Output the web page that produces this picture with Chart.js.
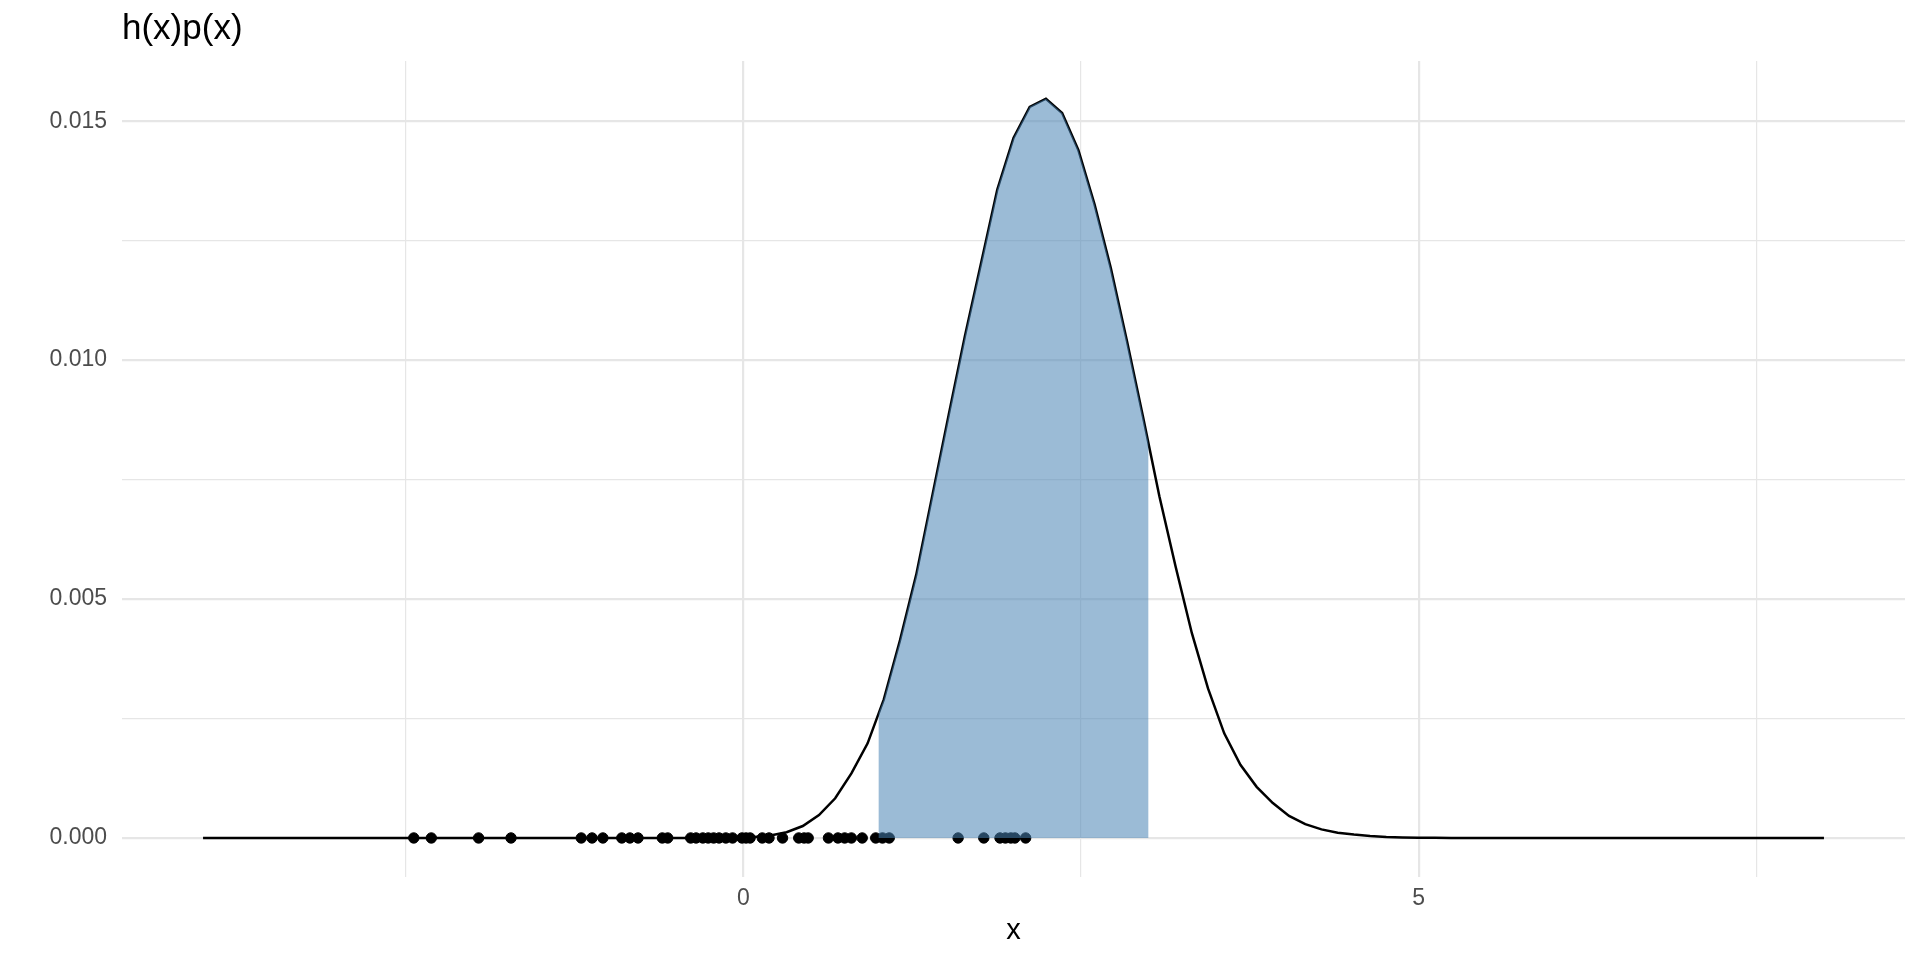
<!DOCTYPE html>
<html>
<head>
<meta charset="utf-8">
<title>h(x)p(x)</title>
<script src="https://cdn.jsdelivr.net/npm/chart.js@4.4.1/dist/chart.umd.min.js"></script>
<style>
    body { margin: 0; background: #ffffff; }
    #wrap { width: 1920px; height: 960px; position: relative; }
</style>
</head>
<body>
<div id="wrap"><canvas id="hpChart"></canvas></div>
<script>
let curveX = [
    -4.00, -3.88, -3.76, -3.64, -3.52, -3.40, -3.28, -3.16, -3.04, -2.92,
    -2.80, -2.68, -2.56, -2.44, -2.32, -2.20, -2.08, -1.96, -1.84, -1.72,
    -1.60, -1.48, -1.36, -1.24, -1.12, -1.00, -0.88, -0.76, -0.64, -0.52,
    -0.40, -0.28, -0.16, -0.04, 0.08, 0.20, 0.32, 0.44, 0.56, 0.68,
    0.80, 0.92, 1.04, 1.16, 1.28, 1.40, 1.52, 1.64, 1.76, 1.88,
    2.00, 2.12, 2.24, 2.36, 2.48, 2.60, 2.72, 2.84, 2.96, 3.08,
    3.20, 3.32, 3.44, 3.56, 3.68, 3.80, 3.92, 4.04, 4.16, 4.28,
    4.40, 4.52, 4.64, 4.76, 4.88, 5.00, 5.12, 5.24, 5.36, 5.48,
    5.60, 5.72, 5.84, 5.96, 6.08, 6.20, 6.32, 6.44, 6.56, 6.68,
    6.80, 6.92, 7.04, 7.16, 7.28, 7.40, 7.52, 7.64, 7.76, 7.88,
    8.00
];
let curveY = [
    0, 0, 0, 0, 0, 0, 0, 0, 0, 0,
    0, 0, 0, 0, 0, 0, 0, 0, 0, 0,
    0, 0, 0, 0, 0, 0, 0, 0, 0, 0,
    0, 0.000001, 0.000003, 0.000008, 0.00002, 0.00005, 0.00012, 0.00025, 0.00048, 0.00083,
    0.00135, 0.00198, 0.0029, 0.00414, 0.00551, 0.00718, 0.00885, 0.0105, 0.01203, 0.01357,
    0.01465, 0.0153, 0.01547, 0.01517, 0.0144, 0.01326, 0.01193, 0.0104, 0.0088, 0.00715,
    0.00568, 0.00429, 0.00313, 0.00219, 0.00153, 0.00107, 0.00073, 0.00046, 0.00029, 0.00018,
    0.00011, 0.00007, 0.00004, 0.00002, 0.00001, 0.000005, 0.000002, 0.000001, 0, 0,
    0, 0, 0, 0, 0, 0, 0, 0, 0, 0,
    0, 0, 0, 0, 0, 0, 0, 0, 0, 0,
    0
];

// shaded part of the curve, x from 1 to 3
let shadeX = [1.00, 1.04, 1.16, 1.28, 1.40, 1.52, 1.64, 1.76, 1.88, 2.00,
    2.12, 2.24, 2.36, 2.48, 2.60, 2.72, 2.84, 2.96, 3.00];
let shadeY = [0.0026, 0.0029, 0.00414, 0.00551, 0.00718, 0.00885, 0.0105, 0.01203, 0.01357, 0.01465,
    0.0153, 0.01547, 0.01517, 0.0144, 0.01326, 0.01193, 0.0104, 0.0088, 0.00825];

// sample points drawn on the x axis
let sampleX = [
    -2.44, -2.31, -1.96, -1.72, -1.20, -1.12, -1.04, -0.90, -0.84, -0.78,
    -0.60, -0.56, -0.39, -0.35, -0.30, -0.26, -0.22, -0.18, -0.13, -0.08,
    -0.01, 0.02, 0.05, 0.14, 0.19, 0.29, 0.41, 0.45, 0.48, 0.63,
    0.70, 0.75, 0.80, 0.88, 0.98, 1.03, 1.08, 1.59, 1.78, 1.90,
    1.94, 1.98, 2.01, 2.09
];

let xTicks = [-2.5, 0, 2.5, 5, 7.5];
let xTickLabels = ["", "0", "", "5", ""];
let yTicks = [0, 0.0025, 0.005, 0.0075, 0.01, 0.0125, 0.015];
let yTickLabels = ["0.000", "", "0.005", "", "0.010", "", "0.015"];

const gridColor = "#E6E6E6";
const tickColor = "#4D4D4D";
const fontFamily = "'Liberation Sans', Arial, Helvetica, sans-serif";

function toPoints(xs, ys) {
    return xs.map((x, i) => ({ x: x, y: ys[i] }));
}

function isMajor(v, step) {
    return Math.abs(v / step - Math.round(v / step)) < 1e-6;
}

const hpChart = new Chart(
    document.getElementById("hpChart"),
    {
        type: "line",
        data: {
            datasets: [
                {
                    label: "h(x)p(x)",
                    data: toPoints(curveX, curveY),
                    borderColor: "#000000",
                    borderWidth: 2.5,
                    pointRadius: 0,
                    fill: false,
                    tension: 0,
                    order: 2
                },
                {
                    label: "samples",
                    data: sampleX.map(x => ({ x: x, y: 0 })),
                    showLine: false,
                    pointRadius: 5.2,
                    pointBorderWidth: 1,
                    pointBackgroundColor: "#000000",
                    pointBorderColor: "#000000",
                    order: 1
                },
                {
                    label: "area",
                    data: toPoints(shadeX, shadeY),
                    borderColor: "rgba(0,0,0,0)",
                    borderWidth: 1,
                    backgroundColor: "rgba(70,130,180,0.54)",
                    pointRadius: 0,
                    fill: "origin",
                    tension: 0,
                    order: 0
                }
            ]
        },
        options: {
            responsive: true,
            maintainAspectRatio: false,
            animation: false,
            layout: { padding: { left: 0, right: 15, top: 0, bottom: 0 } },
            plugins: {
                legend: { display: false },
                tooltip: { enabled: false },
                title: {
                    display: true,
                    text: "h(x)p(x)",
                    align: "start",
                    fullSize: false,
                    color: "#000000",
                    font: { family: fontFamily, size: 35, weight: "normal" },
                    padding: { top: 8, bottom: 11 }
                }
            },
            scales: {
                x: {
                    type: "linear",
                    min: -4.6,
                    max: 8.6,
                    afterBuildTicks: scale => {
                        scale.ticks = xTicks.map(v => ({ value: v }));
                    },
                    afterFit: scale => { scale.height = 83; },
                    ticks: {
                        autoSkip: false,
                        maxRotation: 0,
                        padding: 8,
                        color: tickColor,
                        font: { family: fontFamily, size: 23 },
                        callback: value => xTickLabels[xTicks.indexOf(value)] ?? ""
                    },
                    grid: {
                        color: gridColor,
                        drawTicks: false,
                        lineWidth: ctx => (ctx.tick && isMajor(ctx.tick.value, 5)) ? 2.2 : 1.2
                    },
                    border: { display: false },
                    title: {
                        display: true,
                        text: "x",
                        color: "#000000",
                        font: { family: fontFamily, size: 29 },
                        padding: { top: 0, bottom: 12 }
                    }
                },
                y: {
                    type: "linear",
                    min: -0.000817,
                    max: 0.01626,
                    afterBuildTicks: scale => {
                        scale.ticks = yTicks.map(v => ({ value: v }));
                    },
                    afterFit: scale => { scale.width = 122; },
                    ticks: {
                        padding: 15,
                        color: tickColor,
                        font: { family: fontFamily, size: 23 },
                        callback: value => yTickLabels[yTicks.indexOf(value)] ?? ""
                    },
                    grid: {
                        color: gridColor,
                        drawTicks: false,
                        lineWidth: ctx => (ctx.tick && isMajor(ctx.tick.value, 0.005)) ? 2.2 : 1.2
                    },
                    border: { display: false }
                }
            }
        }
    }
);
</script>
</body>
</html>
